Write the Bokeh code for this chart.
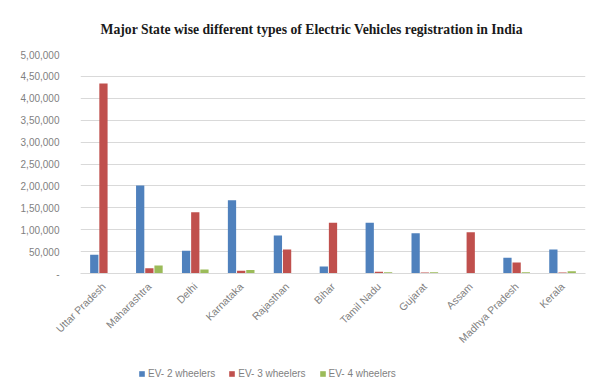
from bokeh.plotting import figure
from bokeh.models import ColumnDataSource, FixedTicker, Legend, LegendItem, FactorRange
from bokeh.layouts import column
from bokeh.transform import dodge
from bokeh.embed import file_html
from bokeh.resources import INLINE
import math

states = ["Uttar Pradesh", "Maharashtra", "Delhi", "Karnataka", "Rajasthan", "Bihar",
          "Tamil Nadu", "Gujarat", "Assam", "Madhya Pradesh", "Kerala"]
ev2 = [43000, 201000, 52000, 167000, 87000, 16000, 116000, 92000, 0, 36000, 55000]
ev3 = [434000, 12000, 140000, 6000, 55000, 116000, 4000, 2000, 94000, 25000, 2000]
ev4 = [1000, 18000, 9000, 8000, 1000, 1000, 3000, 3000, 500, 3000, 5000]
series_names = ["EV- 2 wheelers", "EV- 3 wheelers", "EV- 4 wheelers"]
y_ticks = [0, 50000, 100000, 150000, 200000, 250000, 300000, 350000, 400000, 450000, 500000]
y_tick_labels = ["-", "50,000", "1,00,000", "1,50,000", "2,00,000", "2,50,000",
                 "3,00,000", "3,50,000", "4,00,000", "4,50,000", "5,00,000"]

colors = ["#4F81BD", "#C0504D", "#9BBB59"]
cols = ["ev2", "ev3", "ev4"]

src = ColumnDataSource(data=dict(state=states, ev2=ev2, ev3=ev3, ev4=ev4))

p = figure(x_range=FactorRange(*states, range_padding=0), y_range=(0, 500000),
           width=597, height=352, output_backend="svg", toolbar_location=None,
           min_border_left=80, min_border_right=12, min_border_top=54, min_border_bottom=79,
           title="Major  State wise different types of Electric Vehicles registration in India")

p.title.text_font = "Liberation Serif"
p.title.text_font_size = "13.7px"
p.title.text_font_style = "bold"
p.title.text_color = "#1a1a1a"
p.title.align = "left"
p.title.offset = 20
p.title.standoff = 35

for i, (col, c) in enumerate(zip(cols, colors)):
    p.vbar(x=dodge("state", (i - 1) * 0.2, range=p.x_range), top=col, width=0.18,
           source=src, fill_color=c, line_color=None)

p.yaxis.ticker = FixedTicker(ticks=y_ticks)
p.yaxis.major_label_overrides = {t: l for t, l in zip(y_ticks, y_tick_labels)}
p.yaxis.axis_line_color = None
p.yaxis.major_tick_line_color = None
p.yaxis.minor_tick_line_color = None
p.yaxis.major_label_text_font = "Liberation Sans"
p.yaxis.major_label_text_font_size = "10px"
p.yaxis.major_label_text_color = "#7f7f7f"
p.yaxis.major_label_standoff = 15

p.xaxis.axis_line_color = "#d9d9d9"
p.xaxis.major_tick_line_color = None
p.xaxis.major_label_orientation = math.pi / 4
p.xaxis.major_label_text_font = "Liberation Sans"
p.xaxis.major_label_text_font_size = "10.5px"
p.xaxis.major_label_text_color = "#7f7f7f"
p.xaxis.major_label_standoff = 5

p.xgrid.grid_line_color = None
p.ygrid.grid_line_color = "#d9d9d9"
p.outline_line_color = None

# Legend strip below the chart (its bars lie outside its visible range)
lg = figure(width=597, height=33, output_backend="svg", toolbar_location=None,
            x_range=(0, 1), y_range=(0, 1), x_axis_type=None, y_axis_type=None,
            min_border=0)
lg.outline_line_color = None
lg.xgrid.grid_line_color = None
lg.ygrid.grid_line_color = None
hidden = ColumnDataSource(data=dict(x=[-10], top=[0]))
lrs = [lg.vbar(x="x", top="top", width=0.1, source=hidden, fill_color=c, line_color=None)
       for c in colors]
legend = Legend(items=[LegendItem(label=n, renderers=[r]) for n, r in zip(series_names, lrs)],
                orientation="horizontal", location=(58, 6),
                label_text_font="Liberation Sans", label_text_font_size="10px",
                label_text_color="#7f7f7f", glyph_width=7, glyph_height=7,
                label_standoff=3, spacing=13, padding=0, margin=0, border_line_color=None,
                background_fill_alpha=0, label_height=10)
lg.add_layout(legend, "center")

layout = column(p, lg, spacing=0)
open("out.html", "w").write(file_html(layout, INLINE))
